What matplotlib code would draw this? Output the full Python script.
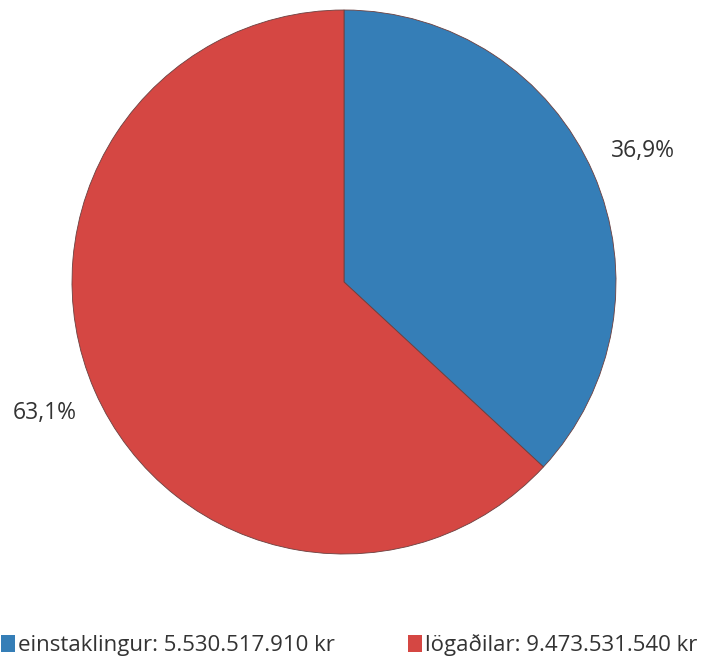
import matplotlib
matplotlib.use('Agg')
import matplotlib.pyplot as plt
from matplotlib.patches import Patch

categories = ["einstaklingur", "lögaðilar"]
amounts = ["5.530.517.910 kr", "9.473.531.540 kr"]
shares = [36.9, 63.1]
colors = ["#357EB7", "#D54743"]

plt.rcParams['font.family'] = ['Open Sans', 'DejaVu Sans']

W, H = 703, 662
fig = plt.figure(figsize=(W / 100, H / 100), dpi=100)
cx, cy, r = 344, 282, 272
ax = fig.add_axes([(cx - r) / W, (H - cy - r) / H, 2 * r / W, 2 * r / H])

labels = [f"{s:.1f}%".replace(".", ",") for s in shares]
wedges, texts = ax.pie(shares, colors=colors, startangle=90, counterclock=False,
                       radius=1, labels=labels, labeldistance=1.2,
                       wedgeprops={"edgecolor": "#6b4040", "linewidth": 0.6},
                       textprops={"fontsize": 16.5, "color": "#333333"})
for t in texts:
    t.set_ha("center")
    t.set_va("center")
ax.set_xlim(-1, 1)
ax.set_ylim(-1, 1)
ax.set_aspect("equal")
ax.axis("off")

handles = [Patch(facecolor=c, edgecolor="none") for c in colors]
leg_labels = [f"{c}: {a}" for c, a in zip(categories, amounts)]
fig.legend(handles, leg_labels, loc="center", bbox_to_anchor=(0.497, 1 - 645 / H),
           ncol=2, frameon=False, fontsize=16, handlelength=0.6, handleheight=0.8,
           handletextpad=0.15, columnspacing=3.3, labelcolor="#333333",
           borderaxespad=0, borderpad=0)

fig.savefig("out.png", dpi=100)
